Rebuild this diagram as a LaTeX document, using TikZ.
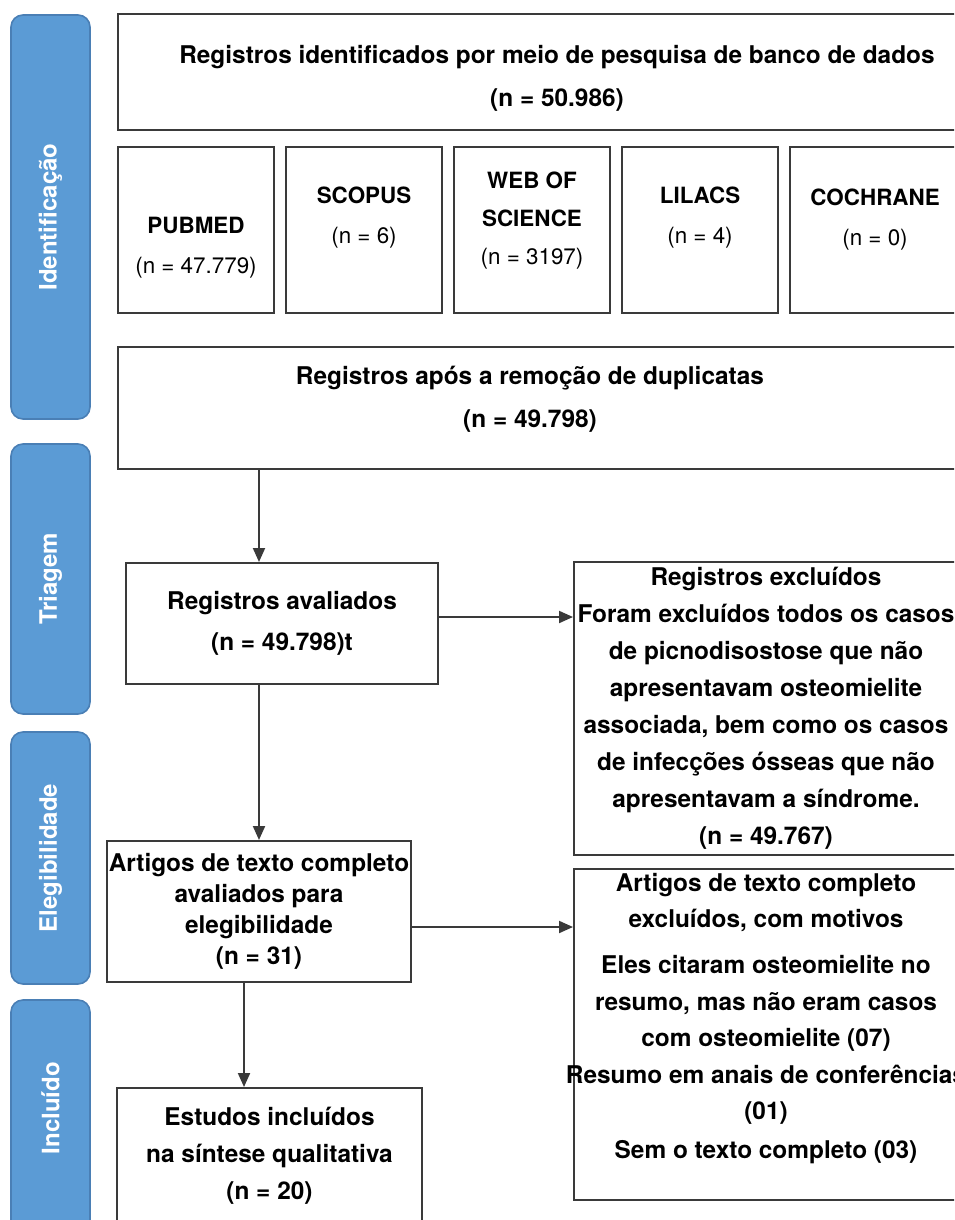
\documentclass[tikz,border=0pt]{standalone}
\usepackage{fontspec}
\setmainfont{TeX Gyre Heros}
\definecolor{phaseblue}{HTML}{5B9BD5}
\definecolor{phaseedge}{HTML}{4A7FB5}
\definecolor{boxline}{HTML}{3A3A3A}
\usetikzlibrary{positioning, calc, arrows.meta}

\begin{document}
\begin{tikzpicture}[
    x=0.5pt, y=-0.5pt,
    % Node styles
    phase node/.style={
        rectangle,
        rounded corners=6pt,
        draw=phaseedge,
        fill=phaseblue,
        line width=0.8pt,
        minimum height=39.5pt,
        inner sep=0pt,
        rotate=90,
        text=white,
        font=\bfseries\fontsize{12}{14}\selectfont
    },
    box node/.style={
        rectangle,
        draw=boxline,
        line width=1pt,
        inner sep=0pt,
        align=center,
        font=\bfseries\fontsize{12.2}{18.5}\selectfont
    },
    db node/.style={
        rectangle,
        draw=boxline,
        line width=1.3pt,
        minimum width=78pt,
        minimum height=83pt,
        inner sep=0pt
    },
    db label/.style={
        align=center,
        font=\fontsize{11.2}{20}\selectfont
    },
    box text/.style={
        align=center,
        font=\bfseries\fontsize{12.2}{21.5}\selectfont
    },
    connection/.style={
        draw=boxline,
        line width=1pt,
        -{Triangle[length=7pt, width=6pt]}
    }
]

\path[use as bounding box, clip] (0,0) rectangle (954,1220);

% Phase bars
\node[phase node, minimum width=202pt] (P-ident) at (50.5, 217) {Identificação};
\node[phase node, minimum width=135pt] (P-triagem) at (50.5, 579) {Triagem};
\node[phase node, minimum width=126pt] (P-eleg) at (50.5, 858) {Elegibilidade};
\node[phase node, minimum width=120pt] (P-incl) at (50.5, 1120) {\hspace*{12pt}Incluído};

% Identification
\node[box node, minimum width=439pt, minimum height=58pt] (regid) at (557, 72) {};
\node[box text] (regid-text) at (557, 78.5) {Registros identificados por meio de pesquisa de banco de dados\\(n = 50.986)};

% Databases
\node[db node] (pubmed) at (196, 230) {};
\node[db label] (pubmed-text) at (196, 248) {\textbf{PUBMED}\\(n = 47.779)};
\node[db node] (scopus) at (364, 230) {};
\node[db label] (scopus-text) at (364, 218) {\textbf{SCOPUS}\\(n = 6)};
\node[db node] (wos) at (532, 230) {};
\node[db label, font=\fontsize{11.2}{19}\selectfont] (wos-text) at (532, 221) {\textbf{WEB OF}\\\textbf{SCIENCE}\\(n = 3197)};
\node[db node] (lilacs) at (700, 230) {};
\node[db label] (lilacs-text) at (700, 218) {\textbf{LILACS}\\(n = 4)};
\node[db node, minimum width=85pt] (cochrane) at (875, 230) {};
\node[db label] (cochrane-text) at (875, 220) {\textbf{COCHRANE}\\(n = 0)};

% After duplicates
\node[box node, minimum width=439pt, minimum height=61pt] (dedup) at (557, 408) {};
\node[box text] (dedup-text) at (530, 399.5) {Registros após a remoção de duplicatas\\(n = 49.798)};

% Screening
\node[box node, minimum width=156pt, minimum height=60.5pt, font=\bfseries\fontsize{12.2}{20.5}\selectfont] (avaliados) at (282, 623.5) {Registros avaliados\\(n = 49.798)t};
\node[box node, minimum width=192pt, minimum height=146.5pt] (excl1) at (766, 708.5) {Registros excluídos\\Foram excluídos todos os casos\\de picnodisostose que não\\apresentavam osteomielite\\associada, bem como os casos\\de infecções ósseas que não\\apresentavam a síndrome.\\(n = 49.767)};

% Eligibility
\node[box node, minimum width=152pt, minimum height=70.5pt, font=\bfseries\fontsize{12.2}{15.5}\selectfont] (artigos) at (259, 911.5) {Artigos de texto completo\\avaliados para\\elegibilidade\\(n = 31)};
\node[box node, minimum width=192pt, minimum height=165.5pt] (excl2) at (766, 1034.5) {};
\node[box text, font=\bfseries\fontsize{12.2}{18.25}\selectfont] (excl2-text) at (766, 1018.5) {Artigos de texto completo\\excluídos, com motivos\\[4.75pt]Eles citaram osteomielite no\\resumo, mas não eram casos\\com osteomielite (07)\\Resumo em anais de conferências\\(01)\\[1.25pt]Sem o texto completo (03)};

% Included
\node[box node, minimum width=152.5pt, minimum height=68pt] (estudos) at (269.5, 1156) {Estudos incluídos\\na síntese qualitativa\\(n = 20)};

% Connections
\draw[connection] (dedup.south -| artigos.north) -- (avaliados.north -| artigos.north);
\draw[connection] ([yshift=3.25pt]avaliados.east) -- ([yshift=3.25pt]avaliados.east -| excl1.west);
\draw[connection] (avaliados.south -| artigos.north) -- (artigos.north);
\draw[connection] ([yshift=-7.75pt]artigos.east) -- ([yshift=-7.75pt]artigos.east -| excl2.west);
\draw[connection] ([xshift=-7.5pt]artigos.south) -- ([xshift=-7.5pt]artigos.south |- estudos.north);

\end{tikzpicture}
\end{document}
